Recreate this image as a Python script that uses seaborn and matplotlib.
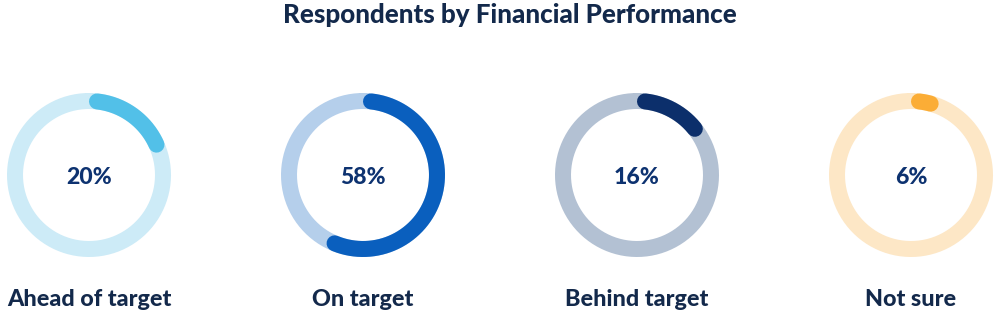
import numpy as np
import pandas as pd
import matplotlib
matplotlib.use("Agg")
import matplotlib.pyplot as plt
import seaborn as sns

# ---- data ----
categories = ["Ahead of target", "On target", "Behind target", "Not sure"]
percents = [20, 58, 16, 6]
track_colors = ["#cdebf7", "#b5cfeb", "#b3c1d3", "#fde7c6"]
arc_colors = ["#52c0e8", "#0a5fbe", "#0c2f6b", "#fbad36"]
title = "Respondents by Financial Performance"

sns.set_theme(style="white")
plt.rcParams["font.family"] = ["Lato", "DejaVu Sans"]

W, H = 1000, 316
fig = plt.figure(figsize=(W / 100, H / 100), dpi=100)
ax = fig.add_axes([0, 0, 1, 1])
ax.set_xlim(0, W)
ax.set_ylim(H, 0)
ax.set_axis_off()

centers_x = [89, 363, 637, 911]
cy = 175
r_mid = 74
ring_px = 16
lw = ring_px * 72 / 100
cap = (ring_px / 2) / r_mid  # radians taken by the round cap

for i, (cat, p) in enumerate(zip(categories, percents)):
    cx = centers_x[i]
    th = np.linspace(0, 2 * np.pi, 400)
    track = pd.DataFrame({"x": cx + r_mid * np.sin(th), "y": cy - r_mid * np.cos(th)})
    sns.lineplot(data=track, x="x", y="y", sort=False, estimator=None,
                 color=track_colors[i], linewidth=lw, ax=ax)
    span = 2 * np.pi * p / 100
    a0, a1 = cap, max(span - cap, cap + 1e-3)
    th2 = np.linspace(a0, a1, 200)
    arc = pd.DataFrame({"x": cx + r_mid * np.sin(th2), "y": cy - r_mid * np.cos(th2)})
    sns.lineplot(data=arc, x="x", y="y", sort=False, estimator=None,
                 color=arc_colors[i], linewidth=lw, ax=ax,
                 solid_capstyle="round")
    ax.text(cx, cy + 2, f"{p}%", ha="center", va="center", fontsize=16.6,
            fontweight="black", color="#0d3270")
    ax.text(cx, 300, cat, ha="center", va="center", fontsize=16.8,
            fontweight="black", color="#13294b")

ax.text(510, 15, title, ha="center", va="center", fontsize=18.7,
        fontweight="black", color="#13294b")

if ax.get_legend() is not None:
    ax.get_legend().remove()
ax.set_xlim(0, W)
ax.set_ylim(H, 0)
ax.set_aspect("equal")
fig.savefig("out.png", dpi=100)
